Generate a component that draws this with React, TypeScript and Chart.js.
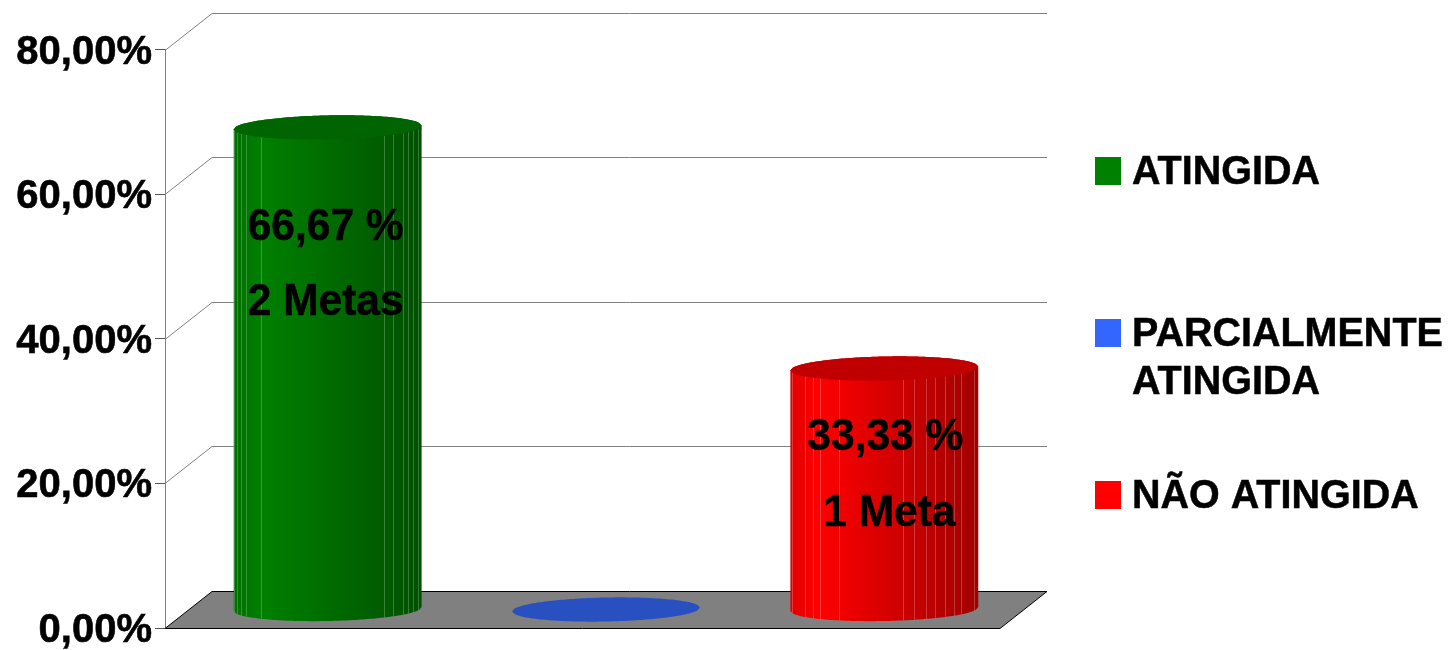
import React, { useEffect, useRef } from "react";
import { Chart, registerables } from "chart.js";

Chart.register(...registerables);

const categories = ["ATINGIDA", "PARCIALMENTE ATINGIDA", "NÃO ATINGIDA"];
const values = [66.67, 0, 33.33];
const yTicks = [0, 20, 40, 60, 80];
const barLabels = [["66,67 %", "2 Metas"], [], ["33,33 %", "1 Meta"]];
const legendLines = [["ATINGIDA"], ["PARCIALMENTE", "ATINGIDA"], ["NÃO ATINGIDA"]];
const legendColors = ["#008000", "#3366ff", "#ff0000"];
const topColors = ["#006400", "#2850c0", "#c00000"];
const sideRamp = [
  ["#007000", "#008000", "#005000"],
  ["#2850c0", "#2850c0", "#2850c0"],
  ["#e00000", "#ff0000", "#a00000"],
];
const slatLines = [
  [0.002, 0.018, 0.04, 0.064, 0.147, 0.8, 0.848, 0.9, 0.927, 0.955, 0.98],
  [],
  [0.01, 0.08, 0.118, 0.16, 0.26, 0.597, 0.66, 0.72, 0.77, 0.825, 0.87, 0.91, 0.975],
];

const FONT = '"Liberation Sans", Arial, sans-serif';
const DX = 47;
const DY = -37;
const RY = 12;
const TILT = -0.02;

function stretchedText(ctx: any, t: string, x: number, y: number, sy: number) {
  ctx.save();
  ctx.translate(x, y);
  ctx.scale(1, sy);
  ctx.lineWidth = 0.5;
  ctx.strokeStyle = "#000000";
  ctx.fillText(t, 0, 0);
  ctx.strokeText(t, 0, 0);
  ctx.restore();
}

const scenePlugin = {
  id: "scene",
  beforeDatasetsDraw(chart: any) {
    const { ctx, chartArea: a, scales } = chart;
    const y = scales.y;
    ctx.save();
    const y0 = Math.round(y.getPixelForValue(0)) + 0.5;
    ctx.beginPath();
    ctx.moveTo(a.left, y0);
    ctx.lineTo(a.right, y0);
    ctx.lineTo(a.right + DX, y0 + DY);
    ctx.lineTo(a.left + DX, y0 + DY);
    ctx.closePath();
    ctx.fillStyle = "#808080";
    ctx.fill();
    ctx.strokeStyle = "#000000";
    ctx.lineWidth = 1;
    ctx.stroke();
    ctx.strokeStyle = "#808080";
    ctx.beginPath();
    yTicks.slice(1).forEach((v) => {
      const p = Math.round(y.getPixelForValue(v)) + 0.5;
      ctx.moveTo(a.left, p);
      ctx.lineTo(a.left + DX, p + DY);
      ctx.lineTo(a.right + DX, p + DY);
    });
    ctx.stroke();
    ctx.restore();
  },
  afterDatasetsDraw(chart: any) {
    const { ctx } = chart;
    const meta = chart.getDatasetMeta(0);
    ctx.save();
    meta.data.forEach((bar: any, i: number) => {
      const cx = bar.x + DX / 2;
      const rx = bar.width / 2;
      const topY = bar.y + DY / 2;
      const botY = bar.base + DY / 2;
      const pt = (u: number, yc: number, front: boolean) => {
        const c = 2 * u - 1;
        const s = Math.sqrt(Math.max(0, 1 - c * c));
        return [cx + rx * c, yc + (front ? RY * s : -RY * s) + TILT * rx * c];
      };
      const M = 80;
      if (values[i] > 0) {
        const g = ctx.createLinearGradient(cx - rx, 0, cx + rx, 0);
        g.addColorStop(0, sideRamp[i][0]);
        g.addColorStop(0.15, sideRamp[i][1]);
        g.addColorStop(1, sideRamp[i][2]);
        ctx.fillStyle = g;
        ctx.beginPath();
        for (let k = 0; k <= M; k++) {
          const p = pt(k / M, topY, false);
          if (k === 0) ctx.moveTo(p[0], p[1]);
          else ctx.lineTo(p[0], p[1]);
        }
        for (let k = M; k >= 0; k--) {
          const p = pt(k / M, botY, true);
          ctx.lineTo(p[0], p[1]);
        }
        ctx.closePath();
        ctx.fill();
        slatLines[i].forEach((u: number) => {
          const a = pt(u, topY, true);
          const b = pt(u, botY, true);
          ctx.strokeStyle = "rgba(255,255,255,0.22)";
          ctx.lineWidth = 1;
          ctx.beginPath();
          ctx.moveTo(Math.round(a[0]) + 0.5, a[1]);
          ctx.lineTo(Math.round(b[0]) + 0.5, b[1]);
          ctx.stroke();
        });
      }
      ctx.fillStyle = topColors[i];
      ctx.beginPath();
      for (let k = 0; k <= M; k++) {
        const p = pt(k / M, topY, true);
        if (k === 0) ctx.moveTo(p[0], p[1]);
        else ctx.lineTo(p[0], p[1]);
      }
      for (let k = M; k >= 0; k--) {
        const p = pt(k / M, topY, false);
        ctx.lineTo(p[0], p[1]);
      }
      ctx.closePath();
      ctx.fill();
    });

    ctx.fillStyle = "#000000";
    ctx.font = `bold 42.5px ${FONT}`;
    ctx.textAlign = "center";
    ctx.textBaseline = "alphabetic";
    const labelX = [[-2, -2], [0, 0], [1, 5]];
    const labelFirst = [113, 0, 82];
    const labelGap = [75, 0, 76];
    meta.data.forEach((bar: any, i: number) => {
      barLabels[i].forEach((t: string, k: number) => {
        const cx = bar.x + DX / 2;
        stretchedText(ctx, t, cx + labelX[i][k], bar.y + DY / 2 + labelFirst[i] + k * labelGap[i], 1.04);
      });
    });

    const boxX = 1095;
    const boxTop = [157, 319, 481];
    const textBase = [184, 346, 508];
    ctx.textAlign = "left";
    ctx.font = `bold 39.5px ${FONT}`;
    categories.forEach((_: string, i: number) => {
      ctx.fillStyle = legendColors[i];
      ctx.fillRect(boxX, boxTop[i], 26, 28);
      ctx.fillStyle = "#000000";
      legendLines[i].forEach((t: string, k: number) => {
        stretchedText(ctx, t, 1132, textBase[i] + k * 48, 1.05);
      });
    });
    ctx.restore();
  },
};

export default function App() {
  const ref = useRef<HTMLCanvasElement>(null);
  useEffect(() => {
    document.body.style.margin = "0";
    document.body.style.background = "#ffffff";
    const chart = new Chart(ref.current as HTMLCanvasElement, {
      type: "bar",
      data: {
        labels: categories,
        datasets: [
          {
            data: values,
            backgroundColor: "rgba(0,0,0,0)",
            borderWidth: 0,
            barPercentage: 0.675,
            categoryPercentage: 1,
          },
        ],
      },
      options: {
        animation: false,
        responsive: false,
        layout: { padding: { left: 0, right: 449, top: 49.5, bottom: 22 } },
        plugins: { legend: { display: false }, tooltip: { enabled: false } },
        scales: {
          x: { display: false, grid: { display: false } },
          y: {
            min: 0,
            max: 80,
            afterFit: (s: any) => {
              s.width = 165;
              s.paddingTop = 0;
              s.paddingBottom = 0;
            },
            afterBuildTicks: (s: any) => {
              s.ticks = yTicks.map((v) => ({ value: v }));
            },
            border: { display: true, color: "#808080", width: 1 },
            grid: {
              drawOnChartArea: false,
              drawTicks: true,
              tickLength: 10,
              tickColor: "#555555",
            },
            ticks: {
              padding: 3,
              labelOffset: 3,
              color: "#000000",
              textStrokeColor: "#000000",
              textStrokeWidth: 0.6,
              font: { family: FONT, weight: "bold", size: 40 },
              callback: (v: any) => `${Number(v).toFixed(2).replace(".", ",")}%`,
            },
          },
        },
      },
      plugins: [scenePlugin],
    } as any);
    return () => chart.destroy();
  }, []);
  return (
    <div style={{ width: 1449, height: 650, overflow: "hidden", background: "#fff" }}>
      <canvas ref={ref} width={1449} height={650} style={{ display: "block" }} />
    </div>
  );
}
